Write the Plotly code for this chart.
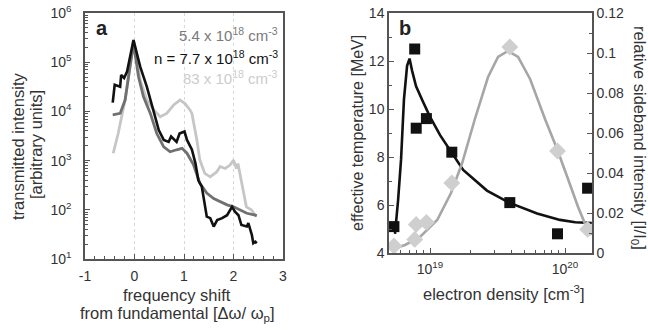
import plotly.graph_objects as go

# ---------------- Panel a data ----------------
shift_77 = [-0.44, -0.40, -0.29, -0.27, -0.21, -0.15, -0.02, 0.115, 0.25, 0.385, 0.49, 0.59, 0.69, 0.74, 0.85, 0.91, 1.01, 1.06, 1.16, 1.23,
            1.29, 1.36, 1.39, 1.46, 1.53, 1.60, 1.67, 1.77, 1.87, 1.97, 2.03, 2.10, 2.16, 2.27, 2.30, 2.37, 2.40, 2.44, 2.47]
logI_77 = [4.18, 4.54, 4.50, 4.74, 4.68, 4.81, 5.45, 4.91, 4.50, 4.03, 3.62, 3.42, 3.38, 3.49, 3.38, 3.55, 3.59, 3.42, 3.22, 2.95,
           2.60, 2.47, 2.27, 1.86, 1.83, 1.66, 1.79, 1.83, 1.89, 2.06, 1.96, 1.89, 1.69, 1.66, 1.73, 1.49, 1.32, 1.35, 1.32]

shift_54 = [-0.44, -0.29, -0.19, -0.09, -0.02, 0.08, 0.18, 0.32, 0.45, 0.59, 0.72, 0.85, 0.96, 1.06, 1.19, 1.32, 1.46, 1.60, 1.73, 1.87, 2.00, 2.13, 2.27, 2.44, 2.47]
logI_54 = [3.93, 3.96, 4.23, 4.91, 5.38, 4.71, 4.30, 3.96, 3.55, 3.28, 3.18, 3.22, 3.25, 3.15, 2.92, 2.54, 2.34, 2.23, 2.16, 2.10, 2.06, 2.00, 1.93, 1.89, 1.88]

shift_83 = [-0.43, -0.33, -0.19, -0.09, -0.02, 0.115, 0.25, 0.39, 0.52, 0.65, 0.79, 0.92, 1.02, 1.12, 1.16, 1.26, 1.32, 1.42, 1.53, 1.66, 1.73, 1.83, 1.93, 2.00, 2.06, 2.09, 2.16, 2.23, 2.26, 2.36, 2.46]
logI_83 = [3.15, 3.55, 4.23, 4.91, 5.45, 4.64, 4.23, 4.03, 3.89, 3.96, 4.13, 4.23, 4.16, 4.03, 3.96, 3.42, 3.01, 2.74, 2.67, 2.77, 2.88, 2.84, 2.91, 3.01, 2.84, 2.94, 2.60, 2.20, 2.06, 2.00, 1.86]

I_77 = [10 ** v for v in logI_77]
I_54 = [10 ** v for v in logI_54]
I_83 = [10 ** v for v in logI_83]

xticks_a = [-1, 0, 1, 2, 3]
xticktext_a = ["-1", "0", "1", "2", "3"]
yticks_a = [1e1, 1e2, 1e3, 1e4, 1e5, 1e6]
yticktext_a = ["10<sup>1</sup>", "10<sup>2</sup>", "10<sup>3</sup>", "10<sup>4</sup>", "10<sup>5</sup>", "10<sup>6</sup>"]

# ---------------- Panel b data ----------------
dens_pts = [5.4e18, 7.7e18, 7.9e18, 9.4e18, 1.45e19, 3.9e19, 8.8e19, 1.47e20]
temp_pts = [5.1, 12.5, 9.2, 9.6, 8.2, 6.1, 4.8, 6.7]
side_pts = [0.0035, 0.0068, 0.0143, 0.0153, 0.035, 0.103, 0.051, 0.0118]

dens_tfit = [5.50e18, 5.80e18, 6.10e18, 6.41e18, 6.76e18, 7.05e18, 7.36e18, 7.88e18, 8.87e18, 1.0e19, 1.19e19, 1.43e19,
             1.76e19, 2.64e19, 3.85e19, 6.21e19, 9.19e19, 1.19e20, 1.58e20]
temp_fit = [4.8, 6.2, 7.9, 10.4, 11.8, 12.1, 11.6, 10.95, 10.3, 9.67, 8.9, 8.2, 7.46, 6.6, 6.1, 5.65, 5.38, 5.28, 5.25]

dens_sfit = [5.24e18, 6.53e18, 8.43e18, 1.13e19, 1.43e19, 1.73e19, 2.15e19, 2.69e19, 3.19e19, 3.78e19, 4.49e19, 5.51e19,
             7.11e19, 8.73e19, 1.04e20, 1.25e20, 1.46e20, 1.58e20]
side_fit = [0.002, 0.004, 0.008, 0.0165, 0.030, 0.045, 0.067, 0.088, 0.098, 0.101, 0.098, 0.087,
            0.067, 0.052, 0.038, 0.023, 0.012, 0.009]

BLACK = "#111111"
DGRAY = "#707070"
LGRAY = "#c6c6c6"
FITGRAY = "#a6a6a6"
DIAM = "#cfcfcf"
AX = "#555555"
TXT = "#333333"
FONT = "Liberation Sans, Arial, sans-serif"
TS = 16.5  # axis title size

W, H = 648, 330
def px(x):
    return x / W
def py(y):
    return 1 - y / H

fig = go.Figure()

fig.add_trace(go.Scatter(x=shift_83, y=I_83, mode="lines", line=dict(color=LGRAY, width=2.8), xaxis="x", yaxis="y"))
fig.add_trace(go.Scatter(x=shift_54, y=I_54, mode="lines", line=dict(color=DGRAY, width=2.8), xaxis="x", yaxis="y"))
fig.add_trace(go.Scatter(x=shift_77, y=I_77, mode="lines", line=dict(color=BLACK, width=2.6), xaxis="x", yaxis="y"))

fig.add_trace(go.Scatter(x=dens_sfit, y=side_fit, mode="lines", line=dict(color=FITGRAY, width=2.6), xaxis="x2", yaxis="y3"))
fig.add_trace(go.Scatter(x=dens_pts, y=side_pts, mode="markers",
                         marker=dict(symbol="diamond", size=13, color=DIAM), xaxis="x2", yaxis="y3"))
fig.add_trace(go.Scatter(x=dens_tfit, y=temp_fit, mode="lines", line=dict(color=BLACK, width=2.6), xaxis="x2", yaxis="y2"))
fig.add_trace(go.Scatter(x=dens_pts, y=temp_pts, mode="markers",
                         marker=dict(symbol="square", size=11, color=BLACK), xaxis="x2", yaxis="y2"))

tickfont = dict(family=FONT, size=14, color=TXT)
common = dict(showline=True, linecolor=AX, linewidth=1.5, ticks="inside", tickcolor=AX,
              tickfont=tickfont, zeroline=False, automargin=False)

fig.update_layout(
    width=W, height=H,
    margin=dict(l=0, r=0, t=0, b=0),
    paper_bgcolor="white", plot_bgcolor="white",
    showlegend=False,
    font=dict(family=FONT, size=15, color=TXT),
    xaxis=dict(domain=[px(85), px(283)], anchor="y", range=[-1, 3], tickvals=xticks_a, ticktext=xticktext_a,
               ticklen=5, mirror=True, showgrid=True, gridcolor="#d8d8d8", griddash="dot", gridwidth=1,
               ticklabelstandoff=3,
               minor=dict(ticks="inside", dtick=0.2, ticklen=3, tickcolor=AX, showgrid=False), **common),
    yaxis=dict(domain=[py(259), py(13)], anchor="x", type="log", range=[1, 6], tickvals=yticks_a, ticktext=yticktext_a,
               ticklen=5, mirror=True, showgrid=False, ticklabelstandoff=9,
               minor=dict(ticks="inside", ticklen=3, tickcolor=AX, dtick="D1", showgrid=False), **common),
    xaxis2=dict(domain=[px(389), px(592)], anchor="y2", type="log", range=[18.696, 20.2],
                tickvals=[1e19, 1e20], ticktext=["10<sup>19</sup>", "10<sup>20</sup>"],
                ticklen=5, mirror=True, showgrid=False, ticklabelstandoff=2,
                minor=dict(ticks="inside", ticklen=3, tickcolor=AX, dtick="D1", showgrid=False), **common),
    yaxis2=dict(domain=[py(253), py(13)], anchor="x2", range=[4, 14], dtick=2, ticklen=5, showgrid=False,
                minor=dict(ticks="inside", dtick=1, ticklen=3, tickcolor=AX, showgrid=False), **common),
    yaxis3=dict(domain=[py(253), py(13)], anchor="x2", overlaying="y2", side="right", range=[0, 0.12], dtick=0.02,
                ticklen=5, showgrid=False, tickformat="~g",
                minor=dict(ticks="inside", dtick=0.01, ticklen=3, tickcolor=AX, showgrid=False), **common),
)

ann = []
def A(x, y, text, size=15, color=TXT, angle=0, xanchor="center", yanchor="middle", bold=False):
    t = f"<b>{text}</b>" if bold else text
    ann.append(dict(x=px(x), y=py(y), xref="paper", yref="paper", text=t, showarrow=False,
                    font=dict(family=FONT, size=size, color=color), textangle=angle,
                    xanchor=xanchor, yanchor=yanchor))

# panel labels
A(102, 28, "a", size=20, color="#222222", bold=True)
A(405, 28, "b", size=20, color="#222222", bold=True)

# legend texts in panel a
A(280, 34, "5.4 x 10<sup>18</sup> cm<sup>-3</sup>", color="#7a7a7a", xanchor="right")
A(280, 57, "n = 7.7 x 10<sup>18</sup> cm<sup>-3</sup>", color="#111111", xanchor="right")
A(280, 77, "83 x 10<sup>18</sup> cm<sup>-3</sup>", color="#cccccc", xanchor="right")

# panel a axis titles
A(177, 295, "frequency shift", size=TS)
A(177, 314, "from fundamental [Δω/ ω<sub>p</sub>]", size=TS)
A(18, 147, "transmitted intensity", size=TS, angle=-90)
A(36, 145, "[arbitrary units]", size=TS, angle=-90)

# panel b axis titles
A(504, 293, "electron density [cm<sup>-3</sup>]", size=TS)
A(357, 133, "effective temperature [MeV]", size=16, angle=-90)
A(639, 138, "relative sideband intensity [I/I<sub>0</sub>]", size=TS, angle=90)

fig.update_layout(annotations=ann)
fig.write_html("out.html", config={"displayModeBar": False},
               post_script="document.body.style.margin='0';document.body.style.overflow='hidden';")
